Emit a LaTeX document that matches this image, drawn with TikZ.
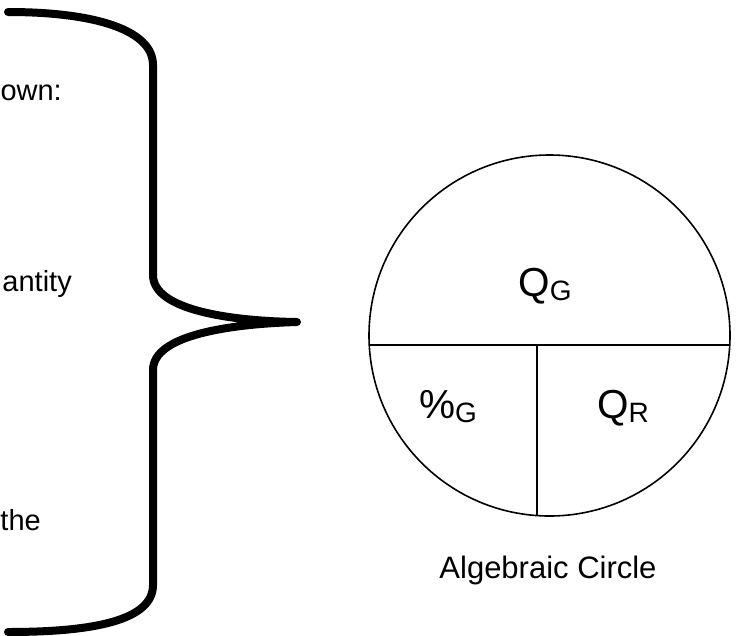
\documentclass[tikz,border=0pt]{standalone}
\usepackage{fontspec}
\setmainfont{Liberation Sans}
\newcommand{\lowsub}[1]{\raisebox{-4pt}{\fontsize{28}{30}\selectfont #1}}
\begin{document}
\begin{tikzpicture}[x=1pt,y=-1pt,
  brace/.style={line width=8pt,line cap=round,line join=round},
  part/.style={line width=1.6pt},
  lbl/.style={inner sep=0pt,anchor=base,font=\fontsize{40.5}{46}\selectfont},
  side/.style={inner sep=0pt,anchor=base east,font=\fontsize{29}{34}\selectfont}]
  \useasboundingbox (0,0) rectangle (736,635);

  % Text on the left, cut off by the page edge
  \node (own) at (62,100) [side] {own:};
  \node (qty) at (72,291) [side] {antity};
  \node (the) at (41,530) [side] {the};

  % The big curly brace
  \draw [brace] (8,12) .. controls (95,12) and (153,30) .. (153,65) -- (153,275)
    .. controls (153,310) and (230,321) .. (297,322)
    .. controls (230,324) and (153,335) .. (153,370) -- (153,585)
    .. controls (153,620) and (95,632) .. (8,632);

  % Algebraic circle split in three parts
  \node (alg) at (549.5,335.5) [circle,draw,part,minimum size=361pt,inner sep=0pt,outer sep=0pt] {};
  \draw [part] (alg.183.65) -- (alg.-3.65);
  \coordinate (mid) at (alg.266.35 |- alg.-3.65);
  \draw [part] (mid) -- (alg.266.35);

  \node (qg) at (545,296) [lbl] {Q\lowsub{G}};
  \node (pg) at (448,418) [lbl] {\%\lowsub{G}};
  \node (qr) at (623,418) [lbl] {Q\lowsub{R}};
  \node (cap) at (548,578) [lbl,font=\fontsize{31}{36}\selectfont] {Algebraic Circle};
\end{tikzpicture}
\end{document}
